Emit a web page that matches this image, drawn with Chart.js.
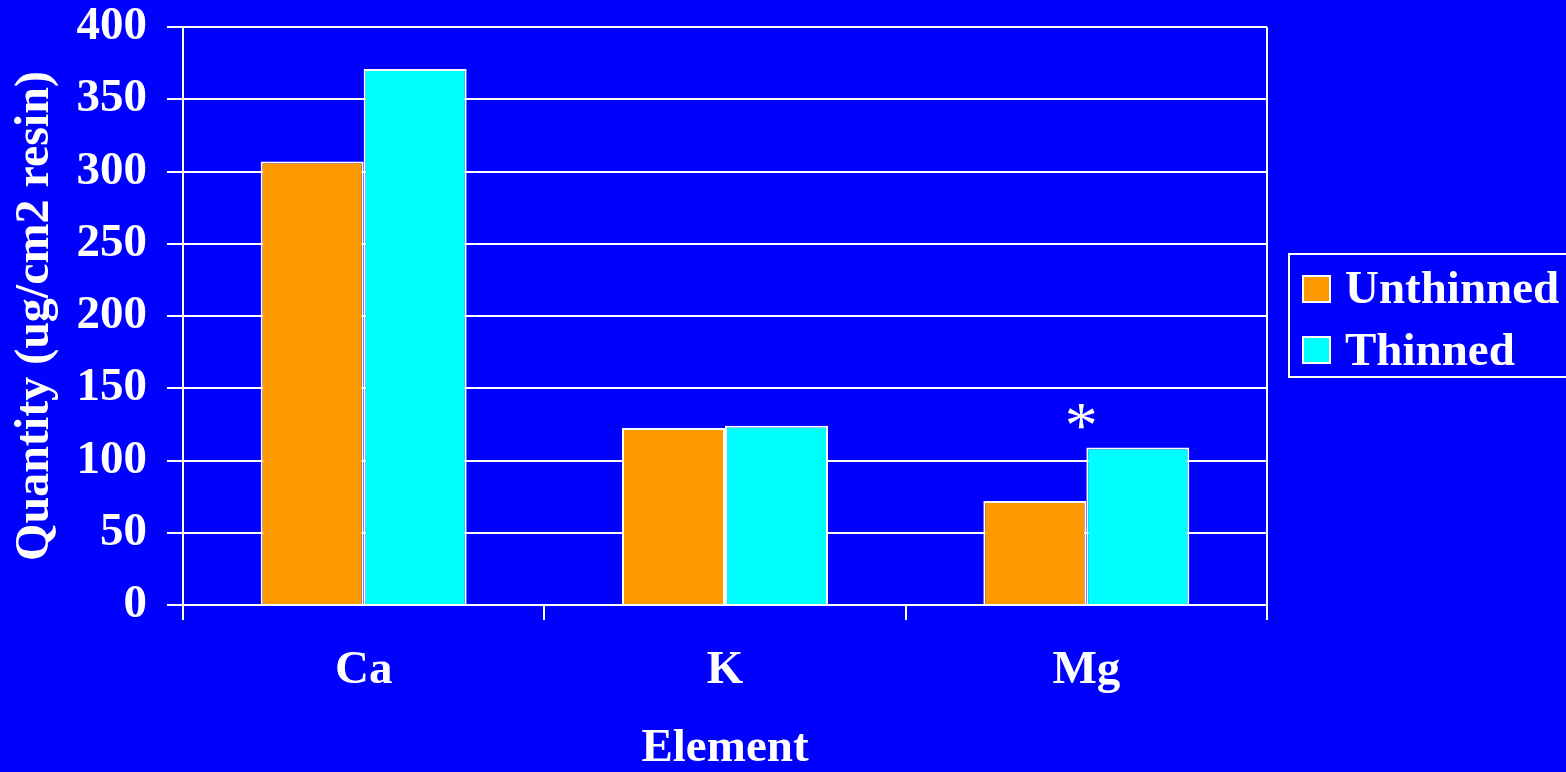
<!DOCTYPE html>
<html>
<head>
<meta charset="utf-8">
<script src="https://cdn.jsdelivr.net/npm/chart.js@4/dist/chart.umd.min.js"></script>
<style>
  html, body { margin: 0; padding: 0; background: #0000FF; }
  #wrap { width: 1566px; height: 772px; }
</style>
</head>
<body>
<div id="wrap"><canvas id="c" width="1566" height="772"></canvas></div>
<script>
// Element categories and measured quantities (ug/cm2 resin)
const elements = ['Ca', 'K', 'Mg'];
const unthinned = [307, 122.5, 72];
const thinned = [371, 124, 109];
// Significance markers shown above the Thinned bars
const thinnedMarks = ['', '', '*'];
const yTicks = [0, 50, 100, 150, 200, 250, 300, 350, 400];

const WHITE = '#FFFFFF';
const FONT = "'Liberation Serif', 'Times New Roman', serif";
const SIZE = 47;

// Plot frame: right edge line
const frameRight = {
  id: 'frameRight',
  beforeDatasetsDraw(chart) {
    const { ctx, chartArea } = chart;
    ctx.save();
    ctx.strokeStyle = WHITE;
    ctx.lineWidth = 2;
    ctx.beginPath();
    ctx.moveTo(chartArea.right, chartArea.top);
    ctx.lineTo(chartArea.right, chartArea.bottom);
    ctx.stroke();
    ctx.restore();
  }
};

// Markers drawn above the left edge of the Thinned bars
const barMarks = {
  id: 'barMarks',
  afterDatasetsDraw(chart) {
    const { ctx } = chart;
    const meta = chart.getDatasetMeta(1);
    ctx.save();
    ctx.fillStyle = WHITE;
    ctx.font = `normal 66px ${FONT}`;
    ctx.textAlign = 'center';
    ctx.textBaseline = 'alphabetic';
    thinnedMarks.forEach((m, i) => {
      if (!m) return;
      const el = meta.data[i];
      ctx.fillText(m, el.x - el.width * 0.55, el.y);
    });
    ctx.restore();
  }
};

// Boxed legend on the right side, its right edge running past the canvas
const boxLegend = {
  id: 'boxLegend',
  afterDraw(chart) {
    const { ctx } = chart;
    const left = 1289, top = 254, bottom = 377;
    ctx.save();
    ctx.strokeStyle = WHITE;
    ctx.lineWidth = 2;
    ctx.beginPath();
    ctx.moveTo(1600, top);
    ctx.lineTo(left, top);
    ctx.lineTo(left, bottom);
    ctx.lineTo(1600, bottom);
    ctx.stroke();
    ctx.font = `bold ${SIZE}px ${FONT}`;
    ctx.textBaseline = 'alphabetic';
    ctx.textAlign = 'left';
    chart.data.datasets.forEach((ds, i) => {
      const sy = 276 + i * 61;
      ctx.fillStyle = ds.backgroundColor;
      ctx.fillRect(1303, sy, 27, 26);
      ctx.strokeStyle = WHITE;
      ctx.lineWidth = 2;
      ctx.strokeRect(1303, sy, 27, 26);
      ctx.fillStyle = WHITE;
      ctx.fillText(ds.label, 1345, 303 + i * 62);
    });
    ctx.restore();
  }
};

new Chart(document.getElementById('c'), {
  type: 'bar',
  data: {
    labels: elements,
    datasets: [
      { label: 'Unthinned', data: unthinned, backgroundColor: '#FF9900', borderColor: WHITE, borderWidth: 2 },
      { label: 'Thinned', data: thinned, backgroundColor: '#00FFFF', borderColor: WHITE, borderWidth: 2 }
    ]
  },
  options: {
    responsive: false,
    animation: false,
    devicePixelRatio: 1,
    layout: { padding: { top: 27, right: 299, left: 0, bottom: 0 } },
    datasets: { bar: { categoryPercentage: 0.57, barPercentage: 1.0 } },
    plugins: { legend: { display: false }, tooltip: { enabled: false } },
    scales: {
      x: {
        offset: true,
        grid: { display: true, drawOnChartArea: false, offset: true, color: WHITE, lineWidth: 2, tickLength: 15 },
        border: { display: true, color: WHITE, width: 2 },
        ticks: { color: WHITE, font: { family: FONT, size: SIZE, weight: 'bold', lineHeight: 1.0 }, padding: 27 },
        title: { display: true, text: 'Element', color: WHITE, font: { family: FONT, size: SIZE, weight: 'bold', lineHeight: 1.0 }, padding: { top: 0, bottom: 0 } },
        afterFit(s) { s.height = 167; s.paddingLeft = 0; s.paddingRight = 0; }
      },
      y: {
        min: 0,
        max: 400,
        afterBuildTicks(s) { s.ticks = yTicks.map(v => ({ value: v })); },
        grid: { color: WHITE, lineWidth: 2, tickLength: 16 },
        border: { display: true, color: WHITE, width: 2 },
        ticks: { color: WHITE, font: { family: FONT, size: SIZE, weight: 'bold', lineHeight: 1.0 }, padding: 20 },
        title: { display: true, text: 'Quantity (ug/cm2 resin)', color: WHITE, font: { family: FONT, size: 48, weight: 'bold', lineHeight: 1.0 }, padding: { top: 12, bottom: 0 } },
        afterFit(s) { s.width = 183; s.paddingTop = 0; s.paddingBottom = 0; }
      }
    }
  },
  plugins: [frameRight, barMarks, boxLegend]
});
</script>
</body>
</html>
